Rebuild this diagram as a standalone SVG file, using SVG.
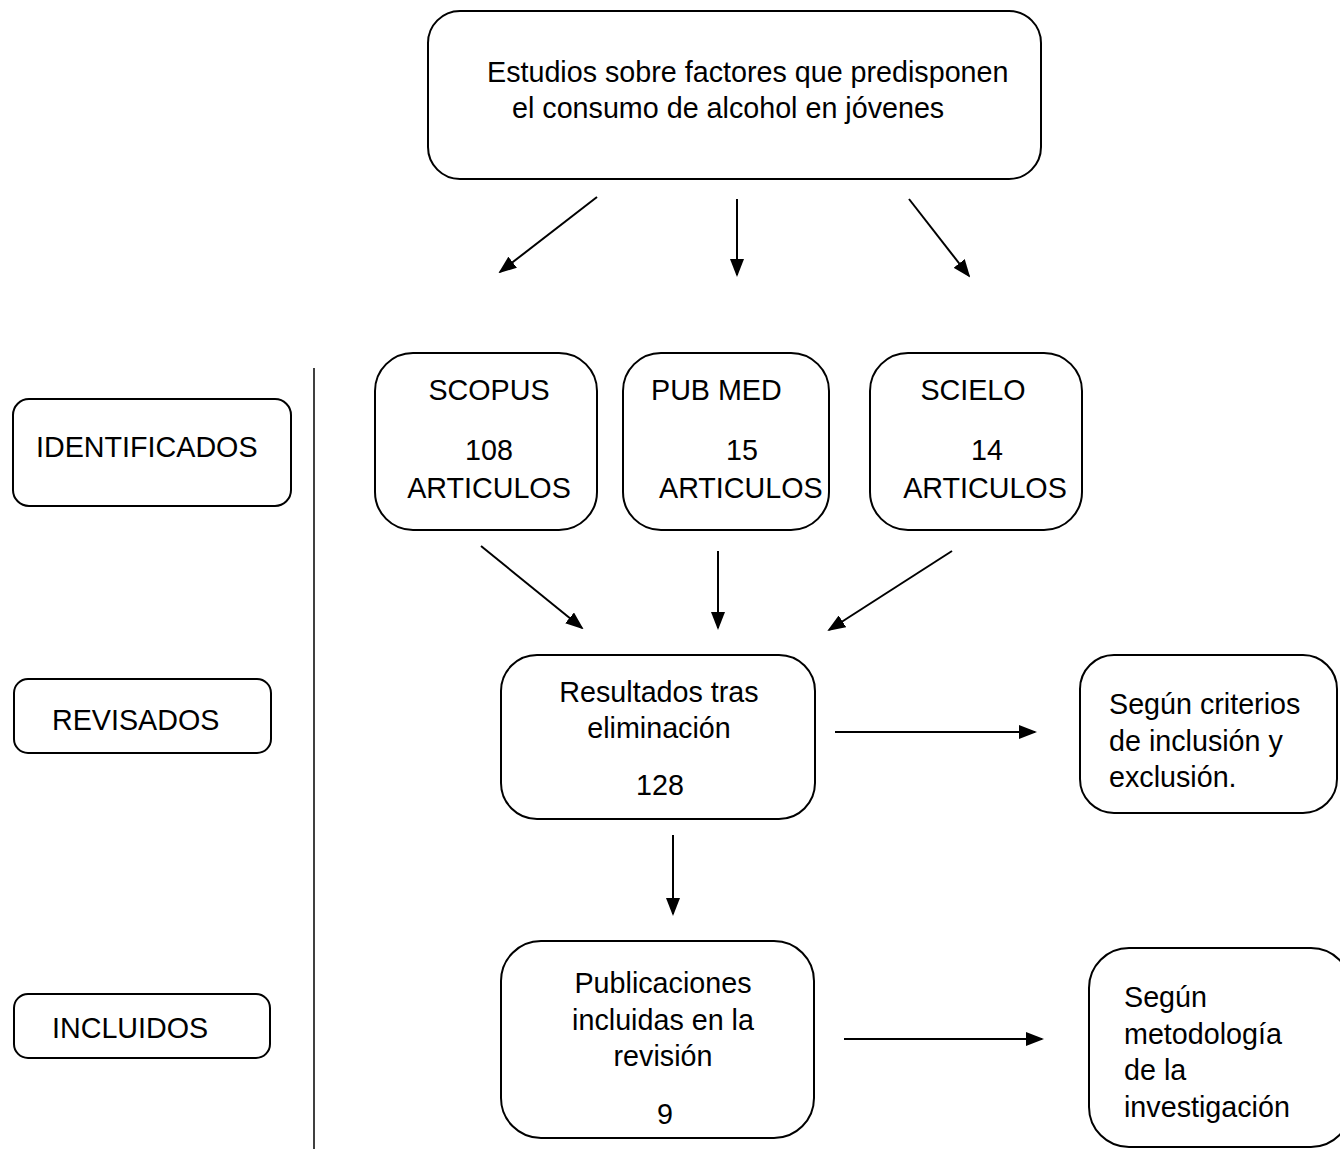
<svg xmlns="http://www.w3.org/2000/svg" width="1340" height="1149" viewBox="0 0 1340 1149">
<style>
.box{fill:#fff;stroke:#000;stroke-width:2}
.t{font-family:"Liberation Sans",Arial,sans-serif;font-size:28.7px;fill:#000}
.c{text-anchor:middle}
.ln{stroke:#000;stroke-width:2;fill:none;marker-end:url(#ah)}
</style>
<defs>
<marker id="ah" markerWidth="18" markerHeight="14" refX="16" refY="7" orient="auto" markerUnits="userSpaceOnUse">
<path d="M0,0 L18,7 L0,14 Z" fill="#000"/>
</marker>
</defs>
<line x1="314" y1="368" x2="314" y2="1149" stroke="#000" stroke-width="1.5"/>
<g id="top">
<rect class="box" x="428" y="11" width="613" height="168" rx="32"/>
<text class="t" x="487" y="82">Estudios sobre factores que predisponen</text>
<text class="t" x="512" y="118">el consumo de alcohol en jóvenes</text>
</g>
<g id="identificados">
<rect class="box" x="13" y="399" width="278" height="107" rx="16"/>
<text class="t" x="36" y="457">IDENTIFICADOS</text>
</g>
<g id="revisados">
<rect class="box" x="14" y="679" width="257" height="74" rx="14"/>
<text class="t" x="52" y="730">REVISADOS</text>
</g>
<g id="incluidos">
<rect class="box" x="14" y="994" width="256" height="64" rx="14"/>
<text class="t" x="52" y="1038">INCLUIDOS</text>
</g>
<g id="scopus">
<rect class="box" x="375" y="353" width="222" height="177" rx="38"/>
<text class="t c" x="489" y="400">SCOPUS</text>
<text class="t c" x="489" y="460">108</text>
<text class="t c" x="489" y="498">ARTICULOS</text>
</g>
<g id="pubmed">
<rect class="box" x="623" y="353" width="206" height="177" rx="38"/>
<text class="t" x="651" y="400">PUB MED</text>
<text class="t c" x="742" y="460">15</text>
<text class="t" x="659" y="498">ARTICULOS</text>
</g>
<g id="scielo">
<rect class="box" x="870" y="353" width="212" height="177" rx="38"/>
<text class="t c" x="973" y="400">SCIELO</text>
<text class="t c" x="987" y="460">14</text>
<text class="t c" x="985" y="498">ARTICULOS</text>
</g>
<g id="resultados">
<rect class="box" x="501" y="655" width="314" height="164" rx="36"/>
<text class="t c" x="659" y="702">Resultados tras</text>
<text class="t c" x="659" y="738">eliminación</text>
<text class="t c" x="660" y="795">128</text>
</g>
<g id="criterios">
<rect class="box" x="1080" y="655" width="257" height="158" rx="34"/>
<text class="t" x="1109" y="714">Según criterios</text>
<text class="t" x="1109" y="751">de inclusión y</text>
<text class="t" x="1109" y="787">exclusión.</text>
</g>
<g id="publicaciones">
<rect class="box" x="501" y="941" width="313" height="197" rx="40"/>
<text class="t c" x="663" y="993">Publicaciones</text>
<text class="t c" x="663" y="1030">incluidas en la</text>
<text class="t c" x="663" y="1066">revisión</text>
<text class="t c" x="665" y="1124">9</text>
</g>
<g id="metodologia">
<rect class="box" x="1089" y="948" width="262" height="199" rx="40"/>
<text class="t" x="1124" y="1007">Según</text>
<text class="t" x="1124" y="1044">metodología</text>
<text class="t" x="1124" y="1080">de la</text>
<text class="t" x="1124" y="1117">investigación</text>
</g>
<g id="connectors">
<line class="ln" x1="597" y1="197" x2="500" y2="272"/>
<line class="ln" x1="737" y1="199" x2="737" y2="275"/>
<line class="ln" x1="909" y1="199" x2="969" y2="276"/>
<line class="ln" x1="481" y1="546" x2="582" y2="628"/>
<line class="ln" x1="718" y1="551" x2="718" y2="628"/>
<line class="ln" x1="952" y1="551" x2="829" y2="630"/>
<line class="ln" x1="835" y1="732" x2="1035" y2="732"/>
<line class="ln" x1="673" y1="835" x2="673" y2="914"/>
<line class="ln" x1="844" y1="1039" x2="1042" y2="1039"/>
</g>
</svg>
